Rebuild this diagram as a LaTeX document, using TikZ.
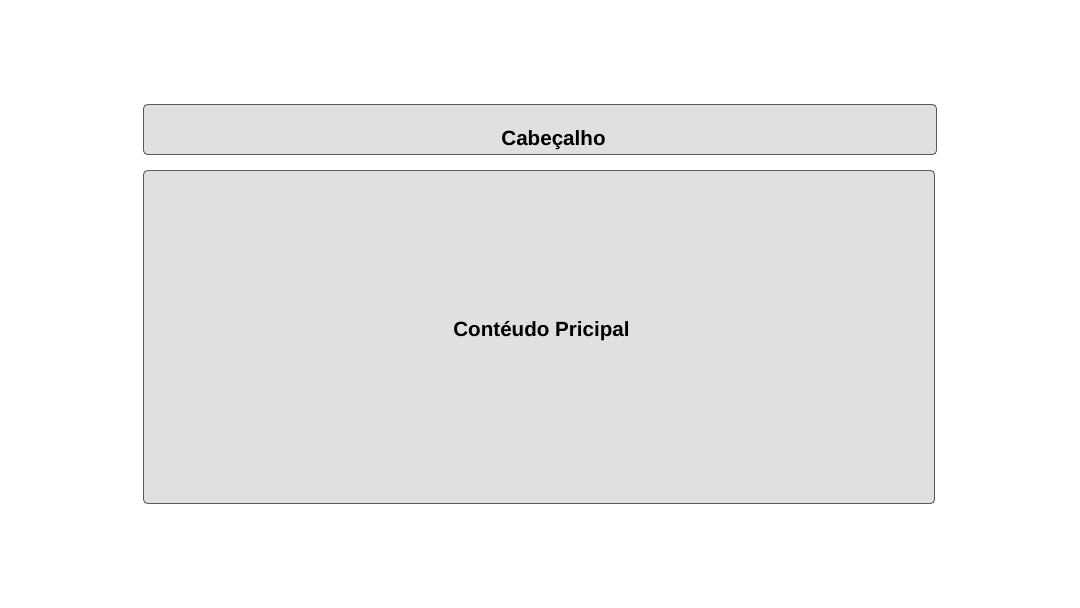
\documentclass[tikz,border=0pt]{standalone}
\usepackage{fontspec}
\setmainfont{Liberation Sans}
\begin{document}
\begin{tikzpicture}[x=1pt,y=-1pt,
  panel/.style={draw=panelline, fill=panelfill, line width=0.9pt, rounded corners=4pt, inner sep=0pt, outer sep=0pt},
  caption/.style={font=\fontsize{20.6}{24}\selectfont\bfseries, text=black, inner sep=0pt, anchor=base}]
  \definecolor{panelfill}{HTML}{E0E0E0}
  \definecolor{panelline}{HTML}{5A5A5A}
  \useasboundingbox (0,0) rectangle (1080,608);
  % header bar
  \node[panel, minimum width=793pt, minimum height=50pt, anchor=north west] (header) at (143.5,104.5) {};
  % main content area
  \node[panel, minimum width=791pt, minimum height=333pt, anchor=north west] (content) at (143.5,170.5) {};
  % labels
  \node[caption] (headerlabel) at (553.5,145) {Cabeçalho};
  \node[caption] (contentlabel) at (541.5,336) {Contéudo Pricipal};
\end{tikzpicture}
\end{document}
